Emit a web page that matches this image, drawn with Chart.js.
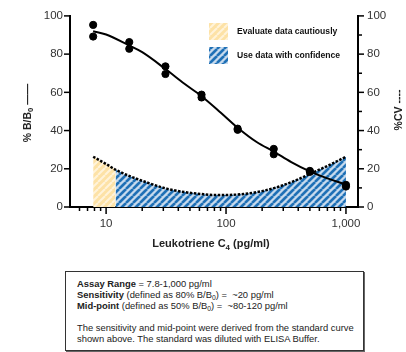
<!DOCTYPE html>
<html><head><meta charset="utf-8">
<script src="https://cdn.jsdelivr.net/npm/chart.js@4.4.1/dist/chart.umd.min.js"></script>
<style>
html,body{margin:0;padding:0;background:#fff;}
#wrap{position:relative;width:406px;height:352px;overflow:hidden;font-family:"Liberation Sans",Arial,sans-serif;}
#chartBox{position:absolute;left:0;top:0;width:406px;height:260px;}
#info{position:absolute;left:65px;top:271px;width:286px;height:72px;border:1px solid #333;box-shadow:1px 1px 0 #666;padding:6px 0 0 11px;font-size:9.4px;line-height:11px;color:#222;white-space:nowrap;}
#info sub{font-size:6.8px;line-height:0;vertical-align:-1.5px;}
</style></head>
<body><div id="wrap"><div id="chartBox"><canvas id="c" width="406" height="260"></canvas></div>
<div id="info"><b>Assay Range</b> = 7.8-1,000 pg/ml<br><b>Sensitivity</b> (defined as 80% B/B<sub>0</sub>) = &nbsp;~20 pg/ml<br><b>Mid-point</b> (defined as 50% B/B<sub>0</sub>) = &nbsp;~80-120 pg/ml<br><br>The sensitivity and mid-point were derived from the standard curve<br>shown above. The standard was diluted with ELISA Buffer.</div>
</div>
<script>
// ---- data ----
const concentrations = [7.8, 15.6, 31.25, 62.5, 125, 250, 500, 1000];
const bb0Rep1 = [95.3, 86.3, 73.6, 58.8, 41.0, 30.4, 18.9, 11.6];
const bb0Rep2 = [89.2, 82.8, 69.6, 57.3, 40.4, 27.6, 18.4, 10.7];
const fitX = [7.8, 10, 15.6, 20, 31.25, 45, 62.5, 90, 125, 180, 250, 350, 500, 700, 1000];
const fitY = [92, 90.3, 84.5, 81, 72.2, 64.5, 58, 49.5, 41.5, 34, 29, 23.5, 18.6, 15, 11.8];
const cvX = [7.8, 10, 12, 16, 22, 32, 45, 62, 80, 100, 140, 200, 280, 400, 500, 700, 1000];
const cvY = [26.3, 22.5, 19.5, 16, 12.8, 9.6, 7.8, 6.8, 6.3, 6.3, 6.8, 8.3, 10.8, 14.5, 17.3, 21.5, 26.3];
const cautionLimit = 12;
const xTickValues = [10, 100, 1000];
const xMinorTicks = [6, 7, 8, 9, 20, 30, 40, 50, 60, 70, 80, 90, 200, 300, 400, 500, 600, 700, 800, 900];
const yTickValues = [0, 20, 40, 60, 80, 100];
const yMinorTicks = [10, 30, 50, 70, 90];
const legendLabels = ['Evaluate data cautiously', 'Use data with confidence'];

const FONT = '"Liberation Sans", Arial, sans-serif';
Chart.defaults.font.family = FONT;
Chart.defaults.color = '#333';

const canvasEl = document.getElementById('c');
const ctx = canvasEl.getContext('2d');
function makeHatch(bg, lines, size) {
  const c = document.createElement('canvas'); c.width = c.height = size;
  const g = c.getContext('2d');
  g.fillStyle = bg; g.fillRect(0, 0, size, size);
  lines.forEach(([color, width, offset]) => {
    g.strokeStyle = color; g.lineWidth = width;
    for (let k = -1; k <= 1; k++) {
      const o = offset + k * size;
      g.beginPath(); g.moveTo(o, size); g.lineTo(o + size, 0); g.stroke();
    }
  });
  return ctx.createPattern(c, 'repeat');
}
const bluePat = makeHatch('#a9c7e4', [['#1d6fb5', 2.4, 0], ['#ffffff', 0.7, 3.5]], 7);
const yellowPat = makeHatch('#fde2a6', [['#fff3da', 2, 0]], 7);

const pts = (ys) => concentrations.map((x, i) => ({x, y: ys[i]}));
const cvPts = cvX.map((x, i) => ({x, y: cvY[i]}));
const cvYellow = cvPts.filter(p => p.x <= cautionLimit);
const cvBlue = cvPts.filter(p => p.x >= cautionLimit);

// draw text with subscript parts, centred at (0,0)
function subText(c, parts, size) {
  const big = 'bold ' + size + 'px ' + FONT, small = 'bold ' + (size * 0.72) + 'px ' + FONT;
  let w = 0;
  parts.forEach(([t, sub]) => { c.font = sub ? small : big; w += c.measureText(t).width; });
  let x = -w / 2;
  c.textAlign = 'left'; c.textBaseline = 'middle';
  parts.forEach(([t, sub]) => {
    c.font = sub ? small : big;
    c.fillText(t, x, sub ? size * 0.32 : 0);
    x += c.measureText(t).width;
  });
}

const decor = {
  id: 'decor',
  afterDraw(chart) {
    const c = chart.ctx, xs = chart.scales.x, yl = chart.scales.y, yr = chart.scales.y2;
    const a = chart.chartArea;
    c.save();
    c.strokeStyle = '#000'; c.lineWidth = 1.5;
    const line = (x1, y1, x2, y2) => { c.beginPath(); c.moveTo(x1, y1); c.lineTo(x2, y2); c.stroke(); };
    yTickValues.forEach(v => { const p = yl.getPixelForValue(v); line(a.left - 6, p, a.left, p); line(a.right, p, a.right + 6, p); });
    yMinorTicks.forEach(v => { const p = yr.getPixelForValue(v); line(a.right, p, a.right + 4, p); });
    xTickValues.forEach(v => { const p = xs.getPixelForValue(v); line(p, a.bottom, p, a.bottom + 7); });
    xMinorTicks.forEach(v => { const p = xs.getPixelForValue(v); line(p, a.bottom, p, a.bottom + 4); });
    // legend
    const lx = 209, ly = [23, 47];
    [yellowPat, bluePat].forEach((pat, i) => {
      c.fillStyle = pat; c.fillRect(lx, ly[i], 19, 17);
      c.fillStyle = '#111'; c.font = 'bold 8.6px ' + FONT; c.textBaseline = 'middle'; c.textAlign = 'left';
      c.fillText(legendLabels[i], 237, ly[i] + 9);
    });
    // titles
    c.fillStyle = '#222';
    c.save(); c.translate(211, 244); subText(c, [['Leukotriene C', false], ['4', true], [' (pg/ml)', false]], 11); c.restore();
    c.save(); c.translate(28, 113); c.rotate(-Math.PI / 2); subText(c, [['% B/B', false], ['0', true], [' \u2014\u2014', false]], 10.5); c.restore();
    c.save(); c.translate(399, 110); c.rotate(-Math.PI / 2); subText(c, [['%CV ----', false]], 10.5); c.restore();
    c.restore();
  }
};

new Chart(canvasEl, {
  type: 'line',
  data: {
    datasets: [
      {data: pts(bb0Rep1), showLine: false, pointRadius: 3.6, pointBackgroundColor: '#000', pointBorderColor: '#000', order: 0},
      {data: pts(bb0Rep2), showLine: false, pointRadius: 3.6, pointBackgroundColor: '#000', pointBorderColor: '#000', order: 0},
      {data: fitX.map((x, i) => ({x, y: fitY[i]})), borderColor: '#000', borderWidth: 2, pointRadius: 0, cubicInterpolationMode: 'monotone', order: 1},
      {data: cvPts, borderColor: '#000', borderWidth: 2.5, borderDash: [2.5, 1.5], pointRadius: 0, cubicInterpolationMode: 'monotone', order: 2, yAxisID: 'y2'},
      {data: cvBlue, borderWidth: 0, pointRadius: 0, fill: 'origin', backgroundColor: bluePat, cubicInterpolationMode: 'monotone', order: 3, yAxisID: 'y2'},
      {data: cvYellow, borderWidth: 0, pointRadius: 0, fill: 'origin', backgroundColor: yellowPat, cubicInterpolationMode: 'monotone', order: 4, yAxisID: 'y2'}
    ]
  },
  options: {
    responsive: false, animation: false, parsing: false,
    layout: {padding: {top: 15, left: 0, right: 0, bottom: 0}},
    plugins: {legend: {display: false}, tooltip: {enabled: false}},
    scales: {
      x: {type: 'logarithmic', min: 5, max: 1260, position: 'bottom',
        grid: {display: false, drawTicks: false}, border: {display: true, color: '#000', width: 2},
        ticks: {padding: 10, font: {size: 11.5}, color: '#333', autoSkip: false, maxRotation: 0,
          callback: v => v.toLocaleString('en-US')},
        afterBuildTicks: s => { s.ticks = xTickValues.map(v => ({value: v})); },
        afterFit: s => { s.height = 53; }},
      y: {position: 'left', min: 0, max: 100,
        grid: {display: false, drawTicks: false}, border: {display: true, color: '#000', width: 2},
        ticks: {stepSize: 20, padding: 7, font: {size: 11.5}, color: '#333'},
        afterFit: s => { s.width = 70; }},
      y2: {position: 'right', min: 0, max: 100,
        grid: {display: false, drawTicks: false}, border: {display: true, color: '#000', width: 2},
        ticks: {stepSize: 20, padding: 9, font: {size: 11.5}, color: '#333'},
        afterFit: s => { s.width = 48; }}
    }
  },
  plugins: [decor]
});
</script>
</body></html>
